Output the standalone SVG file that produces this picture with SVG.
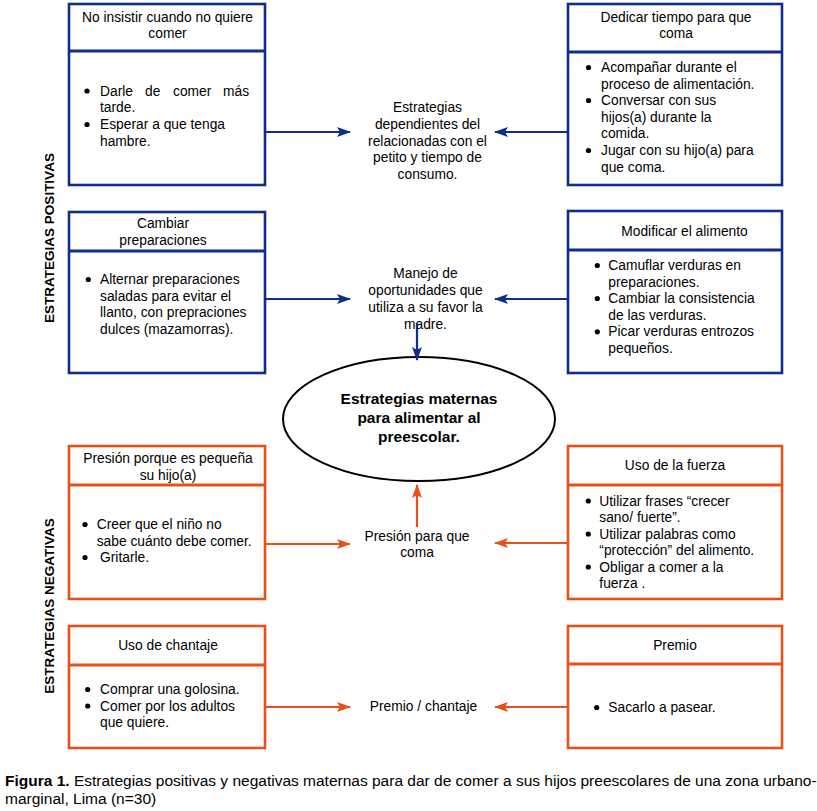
<svg xmlns="http://www.w3.org/2000/svg" width="817" height="811" viewBox="0 0 817 811">
<defs>
<style>
text{font-family:"Liberation Sans",Arial,sans-serif;font-size:13.8px;fill:#000}
.c{text-anchor:middle}
.b{font-weight:bold}
.pos rect,.pos line{stroke:#0e2d8e;fill:none}
.neg rect,.neg line{stroke:#e8501a;fill:none}
rect{stroke-width:2.6}
line.d{stroke-width:3}
.bl{stroke:#0e2d8e;stroke-width:2.2;fill:none}
.or{stroke:#e8501a;stroke-width:2.2;fill:none}
circle{fill:#000}
</style>
<marker id="ab" markerUnits="userSpaceOnUse" markerWidth="16" markerHeight="12" refX="13" refY="5" orient="auto" viewBox="0 0 16 10">
<path d="M0,0 L14,5 L0,10 L3,5 Z" fill="#0e2d8e"/>
</marker>
<marker id="ao" markerUnits="userSpaceOnUse" markerWidth="16" markerHeight="12" refX="13" refY="5" orient="auto" viewBox="0 0 16 10">
<path d="M0,0 L14,5 L0,10 L3,5 Z" fill="#e8501a"/>
</marker>
</defs>
<rect width="817" height="811" fill="#fff"/>

<text class="b" transform="translate(54,238) rotate(-90)" text-anchor="middle" style="font-size:13.5px">ESTRATEGIAS POSITIVAS</text>
<text class="b" transform="translate(54,606) rotate(-90)" text-anchor="middle" style="font-size:13.5px">ESTRATEGIAS NEGATIVAS</text>

<g id="box1" class="pos">
<rect x="69" y="4" width="196" height="181"/>
<line class="d" x1="69" y1="51" x2="265" y2="51"/>
<text class="c" x="167.5" y="21.5">No insistir cuando no quiere</text>
<text class="c" x="167.5" y="38">comer</text>
<circle cx="87" cy="91" r="2.6"/>
<text y="95.5"><tspan x="100">Darle</tspan><tspan x="145">de</tspan><tspan x="173">comer</tspan><tspan x="223">más</tspan></text>
<text x="100" y="112">tarde.</text>
<circle cx="87" cy="124.5" r="2.6"/>
<text x="100" y="129">Esperar a que tenga</text>
<text x="100" y="145.5">hambre.</text>
</g>

<g id="box2" class="pos">
<rect x="568" y="4" width="214" height="181"/>
<line class="d" x1="568" y1="52" x2="782" y2="52"/>
<text class="c" x="676" y="21.5">Dedicar tiempo para que</text>
<text class="c" x="676" y="38">coma</text>
<circle cx="588.5" cy="67.5" r="2.6"/>
<text x="601" y="72">Acompañar durante el</text>
<text x="601" y="88.5">proceso de alimentación.</text>
<circle cx="588.5" cy="100.5" r="2.6"/>
<text x="601" y="105">Conversar con sus</text>
<text x="601" y="121.7">hijos(a) durante la</text>
<text x="601" y="138.3">comida.</text>
<circle cx="588.5" cy="150.5" r="2.6"/>
<text x="601" y="155">Jugar con su hijo(a) para</text>
<text x="601" y="171.5">que coma.</text>
</g>

<g id="center1">
<text class="c" x="427.5" y="112">Estrategias</text>
<text class="c" x="427.5" y="129">dependientes del</text>
<text class="c" x="427.5" y="145.5">relacionadas con el</text>
<text class="c" x="427.5" y="162">petito y tiempo de</text>
<text class="c" x="427.5" y="179">consumo.</text>
</g>

<g id="box3" class="pos">
<rect x="69" y="212" width="196" height="161"/>
<line class="d" x1="69" y1="251" x2="265" y2="251"/>
<text class="c" x="163" y="228">Cambiar</text>
<text class="c" x="163" y="244.5">preparaciones</text>
<circle cx="88.3" cy="279.5" r="2.6"/>
<text x="100" y="284">Alternar preparaciones</text>
<text x="100" y="300.5">saladas para evitar el</text>
<text x="100" y="317">llanto, con prepraciones</text>
<text x="100" y="333.7">dulces (mazamorras).</text>
</g>

<g id="box4" class="pos">
<rect x="568" y="211" width="214" height="162"/>
<line class="d" x1="568" y1="250" x2="782" y2="250"/>
<text class="c" x="684.5" y="236">Modificar el alimento</text>
<circle cx="597.3" cy="265.5" r="2.6"/>
<text x="608.3" y="270">Camuflar verduras en</text>
<text x="608.3" y="286.5">preparaciones.</text>
<circle cx="597.3" cy="298.5" r="2.6"/>
<text x="608.3" y="303">Cambiar la consistencia</text>
<text x="608.3" y="319.7">de las verduras.</text>
<circle cx="597.3" cy="331.8" r="2.6"/>
<text x="608.3" y="336.3">Picar verduras entrozos</text>
<text x="608.3" y="353">pequeños.</text>
</g>

<g id="center2">
<text class="c" x="425.5" y="278">Manejo de</text>
<text class="c" x="425.5" y="294.5">oportunidades que</text>
<text class="c" x="425.5" y="311.5">utiliza a su favor la</text>
<text class="c" x="425.5" y="328.5">madre.</text>
</g>

<g id="main">
<ellipse cx="419" cy="419" rx="136" ry="62" fill="none" stroke="#000" stroke-width="2"/>
<text class="c b" x="419" y="404" style="font-size:15.5px">Estrategias maternas</text>
<text class="c b" x="419" y="423" style="font-size:15.5px">para alimentar al</text>
<text class="c b" x="419" y="442" style="font-size:15.5px">preescolar.</text>
</g>

<g id="box5" class="neg">
<rect x="69" y="446" width="196" height="153"/>
<line class="d" x1="69" y1="485" x2="265" y2="485"/>
<text class="c" x="168" y="463">Presión porque es pequeña</text>
<text class="c" x="168" y="480">su hijo(a)</text>
<circle cx="85" cy="524.5" r="2.6"/>
<text x="96.7" y="529">Creer que el niño no</text>
<text x="96.7" y="545.5">sabe cuánto debe comer.</text>
<circle cx="85" cy="557.5" r="2.6"/>
<text x="100" y="562">Gritarle.</text>
</g>

<g id="box6" class="neg">
<rect x="568" y="446" width="214" height="153"/>
<line class="d" x1="568" y1="485" x2="782" y2="485"/>
<text class="c" x="675" y="470">Uso de la fuerza</text>
<circle cx="588.3" cy="501" r="2.6"/>
<text x="599.3" y="505.5">Utilizar frases “crecer</text>
<text x="599.3" y="522">sano/ fuerte”.</text>
<circle cx="588.3" cy="534" r="2.6"/>
<text x="599.3" y="538.5">Utilizar palabras como</text>
<text x="599.3" y="555">“protección” del alimento.</text>
<circle cx="588.3" cy="567" r="2.6"/>
<text x="599.3" y="571.5">Obligar a comer a la</text>
<text x="599.3" y="588">fuerza .</text>
</g>

<g id="center3">
<text class="c" x="417" y="541">Presión para que</text>
<text class="c" x="417" y="557">coma</text>
</g>

<g id="box7" class="neg">
<rect x="69" y="626" width="196" height="122"/>
<line class="d" x1="69" y1="665" x2="265" y2="665"/>
<text class="c" x="168" y="650">Uso de chantaje</text>
<circle cx="87.7" cy="689.5" r="2.6"/>
<text x="100" y="694">Comprar una golosina.</text>
<circle cx="87.7" cy="706" r="2.6"/>
<text x="100" y="710.5">Comer por los adultos</text>
<text x="100" y="727">que quiere.</text>
</g>

<g id="box8" class="neg">
<rect x="568" y="626" width="214" height="122"/>
<line class="d" x1="568" y1="664" x2="782" y2="664"/>
<text class="c" x="675" y="650">Premio</text>
<circle cx="596.7" cy="707.5" r="2.6"/>
<text x="608.3" y="712">Sacarlo a pasear.</text>
</g>

<g id="center4">
<text class="c" x="423.5" y="711">Premio / chantaje</text>
</g>

<g id="connectors">
<line class="bl" x1="265" y1="132" x2="350" y2="132" marker-end="url(#ab)"/>
<line class="bl" x1="568" y1="132" x2="495" y2="132" marker-end="url(#ab)"/>
<line class="bl" x1="265" y1="299" x2="350" y2="299" marker-end="url(#ab)"/>
<line class="bl" x1="568" y1="299" x2="495" y2="299" marker-end="url(#ab)"/>
<line class="bl" x1="417" y1="323" x2="417" y2="360" marker-end="url(#ab)"/>
<line class="or" x1="265" y1="544" x2="350" y2="544" marker-end="url(#ao)"/>
<line class="or" x1="568" y1="543" x2="495" y2="543" marker-end="url(#ao)"/>
<line class="or" x1="417" y1="527" x2="417" y2="485" marker-end="url(#ao)"/>
<line class="or" x1="265" y1="707" x2="350" y2="707" marker-end="url(#ao)"/>
<line class="or" x1="568" y1="707" x2="495" y2="707" marker-end="url(#ao)"/>
</g>

<g id="caption">
<text x="5" y="785.5" style="font-size:15.5px"><tspan class="b">Figura 1.</tspan> Estrategias positivas y negativas maternas para dar de comer a sus hijos preescolares de una zona urbano-</text>
<text x="5" y="803.5" style="font-size:15.5px">marginal, Lima (n=30)</text>
</g>
</svg>
